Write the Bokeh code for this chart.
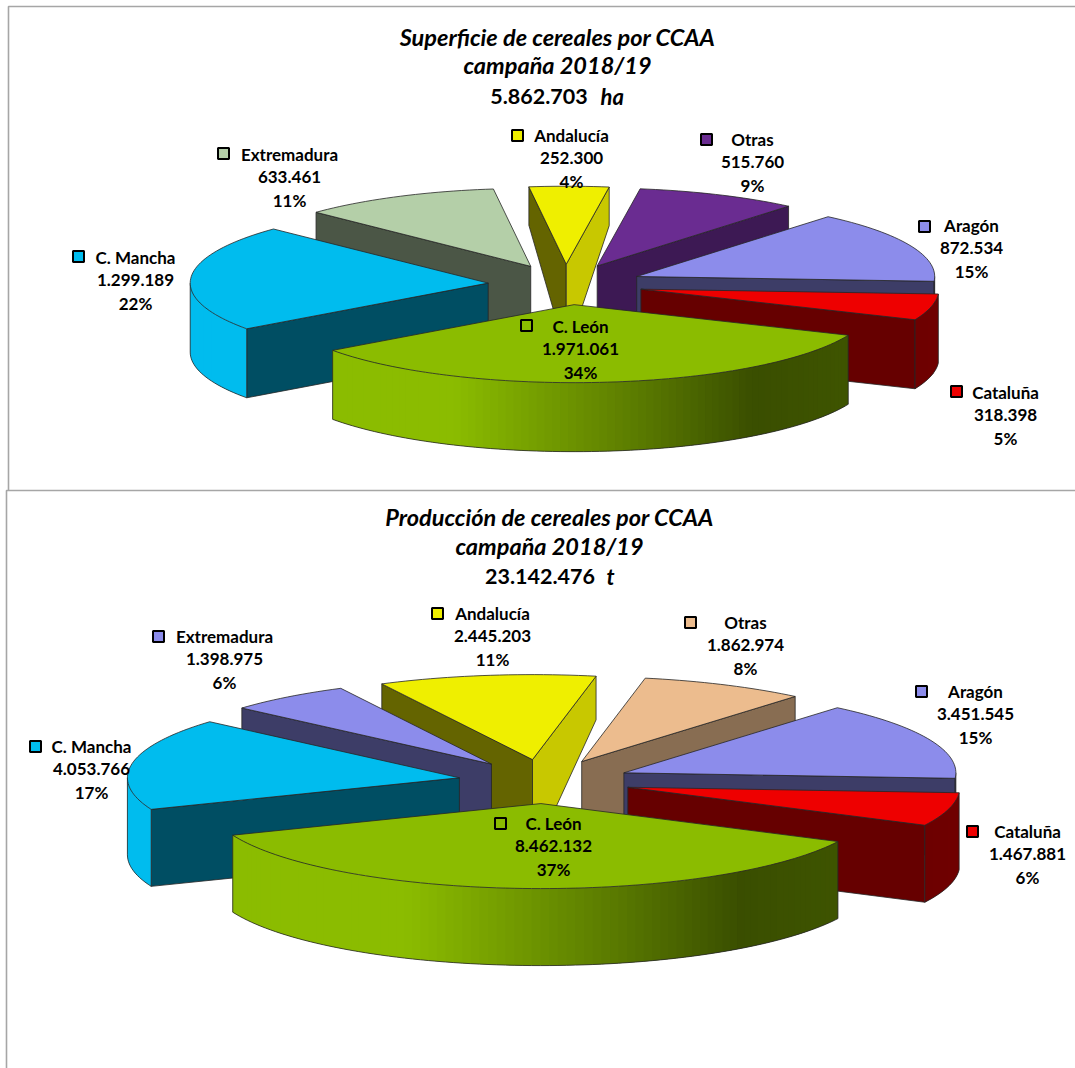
import math
from bokeh.plotting import figure
from bokeh.models import ColumnDataSource, Range1d
from bokeh.core.properties import value
from bokeh.embed import file_html
from bokeh.resources import INLINE

# ---- data ----
regions = ["Andalucía", "Otras", "Aragón", "Cataluña", "C. León", "C. Mancha", "Extremadura"]
superficie = [252300, 515760, 872534, 318398, 1971061, 1299189, 633461]
produccion = [2445203, 1862974, 3451545, 1467881, 8462132, 4053766, 1398975]
pct_sup = [4, 9, 15, 5, 34, 22, 11]
pct_pro = [11, 8, 15, 6, 37, 17, 6]
title_sup = ["Superficie de cereales por CCAA", "campaña 2018/19"]
title_pro = ["Producción de cereales por CCAA", "campaña 2018/19"]
unit_sup = "ha"
unit_pro = "t"

# ---- styles ----
colors_sup = ["#EFEF00", "#6A2C91", "#8C8CEB", "#EE0000", "#8BBC00", "#00BCEE", "#B4CFA8"]
colors_pro = ["#EFEF00", "#ECBC8E", "#8C8CEB", "#EE0000", "#8BBC00", "#00BCEE", "#8C8CEB"]
wallf_sup = [0.42, 0.58, 0.44, 0.43, 0.42, 0.42, 0.42]
wallf_pro = [0.42, 0.58, 0.44, 0.43, 0.42, 0.42, 0.44]
paint_order = ["Andalucía", "Otras", "Extremadura", "Aragón", "C. Mancha", "Cataluña", "C. León"]
FONT = "Lato"
EDGE = "#262626"

# layout: centre, radii, depth, start angle, explosion; label centres and key centres
geom_sup = dict(cx=565, cy=284, rx=298, ry=78, depth=69, start=-7.2, expl=0.26)
geom_pro = dict(cx=544, cy=781, rx=332, ry=85, depth=77, start=-27.0, expl=0.26)
lab_sup = {"Andalucía": (571, 135, 517, 135), "Otras": (752, 139, 706, 139), "Aragón": (971, 225, 924, 226),
           "Cataluña": (1005, 392, 956, 391), "C. León": (580, 326, 526, 325), "C. Mancha": (135, 257, 78, 256),
           "Extremadura": (289, 154, 223, 153)}
lab_pro = {"Andalucía": (492, 613, 437, 613), "Otras": (745, 622, 690, 622), "Aragón": (975, 691, 921, 691),
           "Cataluña": (1027, 831, 972, 831), "C. León": (553, 823, 500, 823), "C. Mancha": (91, 746, 35, 746),
           "Extremadura": (224, 636, 158, 636)}

p = figure(width=1075, height=1068, x_range=Range1d(0, 1075), y_range=Range1d(1068, 0),
           output_backend="svg", toolbar_location=None, min_border=0,
           outline_line_color=None, background_fill_color="white",
           border_fill_color="white")
p.axis.visible = False
p.grid.visible = False


def shade(col, f):
    r, g, b = int(col[1:3], 16), int(col[3:5], 16), int(col[5:7], 16)
    return "#%02X%02X%02X" % (int(r * f), int(g * f), int(b * f))


def rim_factor(u, wf):
    stops = [(-1.0, 1.0), (-0.4, 1.0), (0.17, 0.68), (0.6, wf), (1.0, wf + 0.04)]
    for (a, fa), (b, fb) in zip(stops, stops[1:]):
        if u <= b:
            return fa + (fb - fa) * (u - a) / (b - a)
    return stops[-1][1]


def thousands(v):
    return f"{v:,}".replace(",", ".")


def draw_pie(vals, pcts, colors, wallf, g, labels):
    total = sum(vals)
    cum = g["start"]
    angs = {}
    for i, name in enumerate(regions):
        sweep = vals[i] / total * 360
        angs[name] = (cum, cum + sweep, i)
        cum += sweep

    for name in paint_order:
        t0, t1, i = angs[name]
        base, wf = colors[i], wallf[i]
        mid = math.radians((t0 + t1) / 2)
        ax = g["cx"] + g["expl"] * g["rx"] * math.sin(mid)
        ay = g["cy"] - g["expl"] * g["ry"] * math.cos(mid)

        def pt(deg):
            a = math.radians(deg)
            return ax + g["rx"] * math.sin(a), ay - g["ry"] * math.cos(a)

        def rim_depth(deg):
            c = math.cos(math.radians(deg))
            return g["depth"] * (0.55 + 0.45 * min(1.0, (1 - c) / 0.5))

        apex_depth = g["depth"] * (1 + 0.3 * max(0.0, math.cos(mid)) ** 8)

        # radial walls
        for deg, normal in ((t0, t0 - 90), (t1, t1 + 90)):
            n = math.radians(normal)
            if math.cos(n) < 0:
                light = math.sin(n) > 0 and abs(math.cos(n)) < 0.3
                col = shade(base, 0.84 if light else wf)
                x, y = pt(deg)
                d = rim_depth(deg)
                p.patch([ax, x, x, ax], [ay, y, y + d, ay + apex_depth], fill_color=col,
                        line_color=EDGE, line_width=0.8)

        # curved outer rim: strips overlap the next one so no seams show
        lo, hi = max(t0, 90), min(t1, 270)
        if lo < hi:
            steps = max(3, int((hi - lo) / 1.5))
            deg = [lo + (hi - lo) * k / steps for k in range(steps + 1)]
            xs, ys, cols = [], [], []
            d = g["depth"]
            for k in range(steps):
                a, b = deg[k], deg[min(k + 2, steps)]
                xa, ya = pt(a)
                xb, yb = pt(b)
                xs.append([xa, xb, xb, xa])
                ys.append([ya, yb, yb + d, ya + d])
                u = pt(deg[k] + (deg[1] - deg[0]) / 2)[0] - ax
                cols.append(shade(base, rim_factor(u / g["rx"], wf)))
            p.patches(xs, ys, fill_color=cols, line_color=None)
            ox = [pt(lo)[0]] + [pt(a)[0] for a in deg] + [pt(hi)[0]]
            oy = [pt(lo)[1]] + [pt(a)[1] + d for a in deg] + [pt(hi)[1]]
            p.line(ox, oy, line_color=EDGE, line_width=0.8)

        # top face
        steps = max(4, int((t1 - t0) / 1.5))
        arc = [pt(t0 + (t1 - t0) * k / steps) for k in range(steps + 1)]
        p.patch([ax] + [q[0] for q in arc], [ay] + [q[1] for q in arc], fill_color=base,
                line_color=EDGE, line_width=0.8)

    # labels
    tx, ty, tt, kx, ky, kc = [], [], [], [], [], []
    for i, name in enumerate(regions):
        x, y, kxx, kyy = labels[name]
        lines = [name, thousands(vals[i]), f"{pcts[i]}%"]
        for j, t in enumerate(lines):
            tx.append(x)
            ty.append(y + j * 22.8)
            tt.append(t)
        kx.append(kxx)
        ky.append(kyy)
        kc.append(colors[i])
    p.text(x="x", y="y", text="t", source=ColumnDataSource(dict(x=tx, y=ty, t=tt)),
           text_font=value(FONT), text_font_style="bold", text_font_size="17px",
           text_color="#000000", text_align="center", text_baseline="middle")
    p.scatter(kx, ky, marker="square", size=11, fill_color=kc, line_color="#000000", line_width=2)


# frames
for xs_, ys_ in (([8, 8, 1075], [490, 6, 6]), ([6, 6, 1075], [1068, 490, 490])):
    p.line(xs_, ys_, line_color="#A6A6A6", line_width=1.6)

draw_pie(superficie, pct_sup, colors_sup, wallf_sup, geom_sup, lab_sup)
draw_pie(produccion, pct_pro, colors_pro, wallf_pro, geom_pro, lab_pro)


def titles(lines, total, unit, cx, ys, num_x, unit_x):
    for line, y in zip(lines, ys):
        p.text([cx], [y], text=[line], text_font=value(FONT), text_font_style="bold italic",
               text_font_size="23.5px", text_color="#000000", text_align="center", text_baseline="middle")
    p.text([num_x], [ys[2]], text=[thousands(total)], text_font=value(FONT), text_font_style="bold",
           text_font_size="21.5px", text_color="#000000", text_align="center", text_baseline="middle")
    p.text([unit_x], [ys[2]], text=[unit], text_font=value(FONT), text_font_style="bold italic",
           text_font_size="22px", text_color="#000000", text_align="left", text_baseline="middle")


titles(title_sup, sum(superficie), unit_sup, 557, [36.5, 64.5, 96], 538.5, 600)
titles(title_pro, sum(produccion), unit_pro, 549, [516.5, 545.5, 576], 539.5, 606)

open("out.html", "w").write(file_html(p, INLINE))
